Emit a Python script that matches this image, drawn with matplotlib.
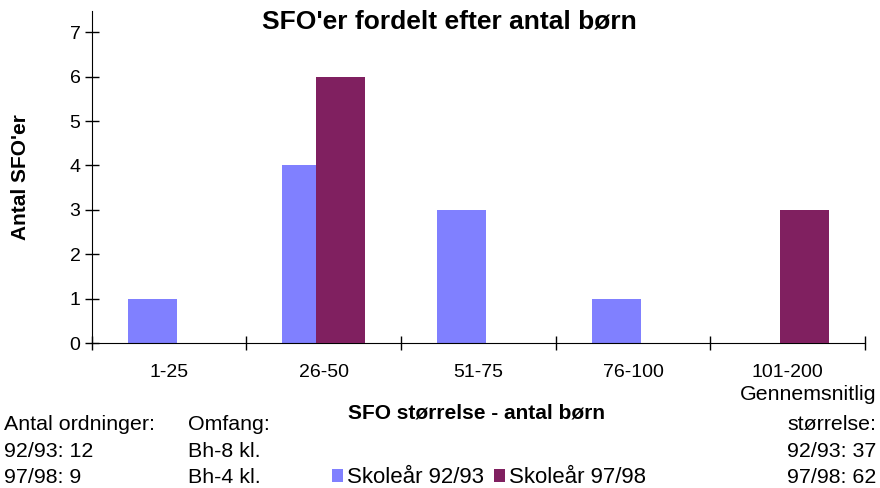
import numpy as np
import matplotlib.pyplot as plt

plt.rcParams['font.family'] = ['Liberation Sans', 'DejaVu Sans']

categories = ['1-25', '26-50', '51-75', '76-100', '101-200']
sfo_9293 = [1, 4, 3, 1, 0]
sfo_9798 = [0, 6, 0, 0, 3]
series_names = ['Skoleår 92/93', 'Skoleår 97/98']

fig = plt.figure(figsize=(8.8, 4.88), dpi=100)
ax = fig.add_axes([0.104, 0.297, 0.879, 0.6805])

x = np.arange(len(categories))
w = 0.317
ax.bar(x - 0.108, sfo_9293, width=w, color='#8080FF', label=series_names[0], zorder=2)
ax.bar(x + 0.108, sfo_9798, width=w, color='#802060', label=series_names[1], zorder=3)

ax.set_xlim(-0.5, len(categories) - 0.5)
ax.set_ylim(0, 7.48)
ax.set_yticks(range(8))
ax.set_xticks(np.arange(len(categories) + 1) - 0.5)
ax.set_xticklabels([])
ax.set_xticks(x, minor=True)
ax.set_xticklabels(categories, minor=True, fontsize=14)
ax.tick_params(axis='x', which='major', direction='inout', length=10, width=1)
ax.tick_params(axis='x', which='minor', length=0, pad=15)
ax.tick_params(axis='y', direction='inout', length=10, width=1, labelsize=14, pad=3)
for s in ['top', 'right']:
    ax.spines[s].set_visible(False)

fig.text(0.511, 0.955, "SFO'er fordelt efter antal børn", ha='center', va='center',
         fontsize=19, fontweight='bold')
fig.text(0.023, 0.637, "Antal SFO'er", rotation=90, ha='center', va='center',
         fontsize=15, fontweight='bold')
fig.text(0.542, 0.154, "SFO størrelse - antal børn", ha='center', va='center',
         fontsize=15, fontweight='bold')

# bottom notes
note = dict(fontsize=15.4, va='center')
fig.text(0.004, 0.131, "Antal ordninger:", **note)
fig.text(0.004, 0.074, "92/93: 12", **note)
fig.text(0.004, 0.021, "97/98: 9", **note)
fig.text(0.214, 0.131, "Omfang:", **note)
fig.text(0.214, 0.074, "Bh-8 kl.", **note)
fig.text(0.214, 0.021, "Bh-4 kl.", **note)

fig.text(0.996, 0.191, "Gennemsnitlig", ha='right', **note)
fig.text(0.996, 0.131, "størrelse:", ha='right', **note)
fig.text(0.996, 0.074, "92/93: 37", ha='right', **note)
fig.text(0.996, 0.021, "97/98: 62", ha='right', **note)

ax.legend(loc='center left', bbox_to_anchor=(0.377, 0.021), bbox_transform=fig.transFigure,
          ncol=2, frameon=False, fontsize=16, handlelength=0.5, handleheight=0.5,
          handletextpad=0.18, columnspacing=0.45, borderpad=0, borderaxespad=0)

fig.savefig('out.png', dpi=100)
